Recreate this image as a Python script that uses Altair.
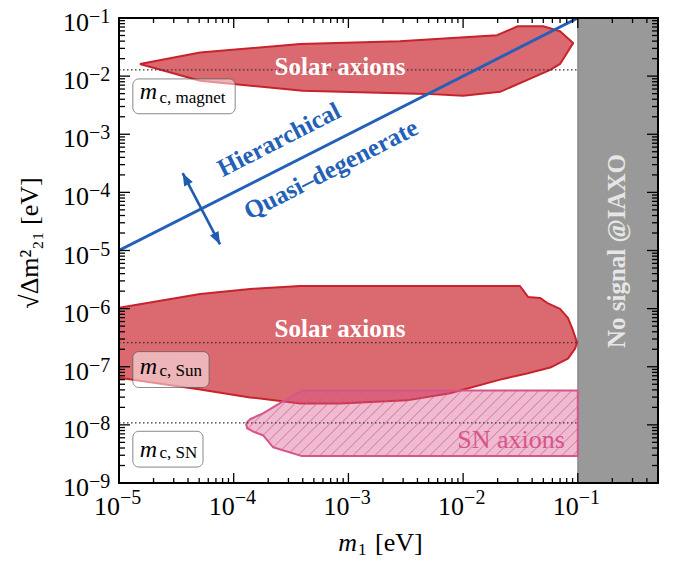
import altair as alt
import numpy as np
import pandas as pd

# ---------------- axes ----------------
X_DOMAIN = [1e-5, 0.5]
Y_DOMAIN = [1e-9, 1e-1]
W, H = 539, 465
FONT = "Liberation Serif"

RED = "#c8232c"
PINK = "#d6558a"
BLUE = "#2360b8"
GRAY = "#999999"

X_MAJOR_EXP = [-5, -4, -3, -2, -1]
Y_MAJOR_EXP = [-9, -8, -7, -6, -5, -4, -3, -2, -1]
MINOR_MULT = [2, 3, 4, 5, 6, 7, 8, 9]

# ---------------- regions ----------------
solar_hi_x = [1.52e-5, 5.1e-5, 3.8e-4, 2.8e-3, 1.98e-2, 3.0e-2, 4.98e-2, 7.0e-2, 9.1e-2,
              7.0e-2, 5.75e-2, 2.1e-2, 1.0e-2, 4.8e-3, 4.0e-4, 5.1e-5, 1.52e-5]
solar_hi_y = [1.62e-2, 2.55e-2, 3.56e-2, 4.0e-2, 5.07e-2, 7.2e-2, 7.2e-2, 5.9e-2, 3.7e-2,
              1.62e-2, 1.28e-2, 5.37e-3, 4.6e-3, 4.95e-3, 5.6e-3, 8.3e-3, 1.62e-2]

solar_lo_x = [1e-5, 5.1e-5, 1.39e-4, 3.8e-4, 3.13e-2, 3.68e-2, 4.68e-2, 5.38e-2, 7.0e-2, 8.2e-2,
              9.1e-2, 9.85e-2, 9.46e-2, 8.2e-2, 5.75e-2, 3.6e-2, 2.1e-2, 7.7e-3, 3.24e-3,
              8.45e-4, 3.8e-4, 1.39e-4, 5.1e-5, 1e-5, 1e-5]
solar_lo_y = [1.03e-6, 1.79e-6, 2.18e-6, 2.45e-6, 2.45e-6, 1.59e-6, 1.53e-6, 1.26e-6, 9.9e-7, 6.95e-7,
              4.17e-7, 2.6e-7, 2.05e-7, 1.38e-7, 9.7e-8, 7.65e-8, 6.0e-8, 3.5e-8, 2.64e-8,
              2.34e-8, 2.34e-8, 2.97e-8, 4.07e-8, 6.5e-8, 1.03e-6]

sn_x = [1.28e-4, 1.39e-4, 1.8e-4, 2.69e-4, 3.94e-4, 0.1, 0.1, 3.94e-4, 2.2e-4, 1.8e-4, 1.53e-4, 1.31e-4, 1.28e-4]
sn_y = [1.06e-8, 1.25e-8, 1.58e-8, 2.54e-8, 3.9e-8, 3.9e-8, 2.9e-9, 2.9e-9, 4.13e-9, 6.64e-9, 7.46e-9, 8.75e-9, 1.06e-8]

iaxo_x = [0.1]
iaxo_x2 = [0.5]

hier_x = [1e-5, 0.1]
hier_y = [1e-5, 0.1]

arrow_x = [3.59e-5, 7.6e-5]
arrow_y = [2.14e-4, 1.27e-5]
arrow_angle = [332.5, 152.5]

mc_values = [1.28e-2, 2.6e-7, 1.08e-8]
mc_x_range = [1e-5, 0.1]

# label boxes (data coords)
box_x = [1.32e-5, 1.32e-5, 1.32e-5]
box_x2 = [1.03e-4, 6.1e-5, 5.4e-5]
box_y = [8.95e-3, 1.82e-7, 7.76e-9]
box_y2 = [2.25e-3, 4.4e-8, 1.88e-9]
box_sub = ["c, magnet", "c, Sun", "c, SN"]
box_m_x = [1.52e-5, 1.52e-5, 1.52e-5]
box_m_y = [4.07e-3, 7.65e-8, 2.79e-9]
box_sub_x = [2.25e-5, 2.25e-5, 2.25e-5]
box_sub_y = [3.48e-3, 6.8e-8, 2.68e-9]

# ---------------- encodings ----------------
XS = alt.Scale(type="log", domain=X_DOMAIN, nice=False)
YS = alt.Scale(type="log", domain=Y_DOMAIN, nice=False)
X = alt.X("x:Q", scale=XS, axis=None)
Y = alt.Y("y:Q", scale=YS, axis=None)


def polygon(xs, ys, name, fill, opacity, stroke, sw):
    df = pd.DataFrame({"x": xs, "y": ys, "o": list(range(len(xs))), "poly": name})
    return alt.Chart(df).mark_line(
        fill=fill, fillOpacity=opacity, stroke=stroke, strokeWidth=sw,
        strokeJoin="round", clip=True
    ).encode(x=X, y=Y, order="o:Q", detail="poly:N")


layers = []

# IAXO gray band
iaxo_df = pd.DataFrame({"x": iaxo_x, "x2": iaxo_x2, "y": [Y_DOMAIN[0]], "y2": [Y_DOMAIN[1]]})
layers.append(alt.Chart(iaxo_df).mark_rect(fill=GRAY, stroke="#7d7d7d", strokeWidth=1).encode(
    x=X, x2="x2:Q", y=Y, y2="y2:Q"))

# Solar regions
layers.append(polygon(solar_hi_x, solar_hi_y, "hi", RED, 0.68, RED, 2))
layers.append(polygon(solar_lo_x, solar_lo_y, "lo", RED, 0.68, RED, 2))

# SN region (fill)
layers.append(polygon(sn_x, sn_y, "sn", PINK, 0.4, PINK, 0))

# hatch segments clipped to the SN polygon (45 degrees in screen space)
sx = W / (np.log10(X_DOMAIN[1]) - np.log10(X_DOMAIN[0]))
sy = H / (np.log10(Y_DOMAIN[1]) - np.log10(Y_DOMAIN[0]))
P = [(np.log10(a) * sx, np.log10(b) * sy) for a, b in zip(sn_x, sn_y)]
cvals = [py - px for px, py in P]
segs = []
for c in np.arange(min(cvals) + 5.5, max(cvals), 11.0):
    hits = []
    for (X1, Y1), (X2, Y2) in zip(P[:-1], P[1:]):
        f1, f2 = Y1 - X1 - c, Y2 - X2 - c
        if (f1 > 0) != (f2 > 0):
            t = f1 / (f1 - f2)
            hits.append(X1 + t * (X2 - X1))
    hits.sort()
    for a, b in zip(hits[0::2], hits[1::2]):
        segs.append((10 ** (a / sx), 10 ** ((a + c) / sy), 10 ** (b / sx), 10 ** ((b + c) / sy)))
hatch_df = pd.DataFrame(segs, columns=["x", "y", "x2", "y2"])
layers.append(alt.Chart(hatch_df).mark_rule(color=PINK, strokeWidth=0.9, opacity=0.85, clip=True).encode(
    x=X, y=Y, x2="x2:Q", y2="y2:Q"))
layers.append(polygon(sn_x, sn_y, "sn2", "transparent", 0, PINK, 2))

# dotted m_c lines
mc_df = pd.DataFrame({"y": mc_values, "x": [mc_x_range[0]] * 3, "x2": [mc_x_range[1]] * 3})
layers.append(alt.Chart(mc_df).mark_rule(color="#333333", strokeWidth=1.2, strokeDash=[1.5, 2.5]).encode(
    x=X, x2="x2:Q", y=Y))

# hierarchical / quasi-degenerate line
hier_df = pd.DataFrame({"x": hier_x, "y": hier_y})
layers.append(alt.Chart(hier_df).mark_line(color=BLUE, strokeWidth=3, clip=True).encode(x=X, y=Y))

# double arrow
arr_df = pd.DataFrame({"x": arrow_x, "y": arrow_y, "angle": arrow_angle})
layers.append(alt.Chart(arr_df).mark_line(color="#1f5bb0", strokeWidth=2.6).encode(x=X, y=Y))
layers.append(alt.Chart(arr_df).mark_point(
    shape="M0,0L0.85,2.2L-0.85,2.2Z", filled=True, size=130, color="#1f5bb0", opacity=1
).encode(x=X, y=Y, angle=alt.Angle("angle:Q", scale=None)))

# region texts
txt = pd.DataFrame({
    "x": [8.45e-4, 8.45e-4], "y": [1.44e-2, 4.5e-7], "t": ["Solar axions", "Solar axions"]})
layers.append(alt.Chart(txt).mark_text(font=FONT, fontSize=25, fontWeight="bold", color="white",
                                       baseline="middle").encode(x=X, y=Y, text="t:N"))
sn_t = pd.DataFrame({"x": [2.62e-2], "y": [5.44e-9], "t": ["SN axions"]})
layers.append(alt.Chart(sn_t).mark_text(font=FONT, fontSize=26, color=PINK, baseline="middle").encode(
    x=X, y=Y, text="t:N"))
iaxo_t = pd.DataFrame({"x": [0.22], "y": [9.8e-6], "t": ["No signal @IAXO"]})
layers.append(alt.Chart(iaxo_t).mark_text(font=FONT, fontSize=25, fontWeight="bold", color="#e6e6e6",
                                          angle=270, baseline="middle").encode(x=X, y=Y, text="t:N"))
blue_t = pd.DataFrame({"x": [2.48e-4, 7.05e-4], "y": [8.1e-4, 2.48e-4],
                       "t": ["Hierarchical", "Quasi–degenerate"]})
layers.append(alt.Chart(blue_t).mark_text(font=FONT, fontSize=25, fontWeight="bold", color=BLUE,
                                          angle=333, baseline="middle").encode(x=X, y=Y, text="t:N"))

# label boxes
bx = pd.DataFrame({"x": box_x, "x2": box_x2, "y": box_y, "y2": box_y2})
layers.append(alt.Chart(bx).mark_rect(fill="white", fillOpacity=0.5, stroke="#555555", strokeOpacity=0.7,
                                      strokeWidth=1, cornerRadius=6).encode(x=X, x2="x2:Q", y=Y, y2="y2:Q"))
bm = pd.DataFrame({"x": box_m_x, "y": box_m_y, "t": ["m"] * 3})
layers.append(alt.Chart(bm).mark_text(font=FONT, fontSize=24, fontStyle="italic", align="left",
                                      baseline="alphabetic", color="black").encode(x=X, y=Y, text="t:N"))
bs = pd.DataFrame({"x": box_sub_x, "y": box_sub_y, "t": box_sub})
layers.append(alt.Chart(bs).mark_text(font=FONT, fontSize=17, align="left",
                                      baseline="alphabetic", color="black").encode(x=X, y=Y, text="t:N"))

# ticks (inward, four sides)
x_major = [10.0 ** e for e in X_MAJOR_EXP]
x_minor = [m * 10.0 ** e for e in X_MAJOR_EXP for m in MINOR_MULT if m * 10.0 ** e < X_DOMAIN[1]]
y_major = [10.0 ** e for e in Y_MAJOR_EXP]
y_minor = [m * 10.0 ** e for e in Y_MAJOR_EXP[:-1] for m in MINOR_MULT]

for vals, ln in [(x_major, 10), (x_minor, 5)]:
    d = pd.DataFrame({"x": vals})
    layers.append(alt.Chart(d).mark_rule(color="black", strokeWidth=1.3).encode(
        x=X, y=alt.value(H), y2=alt.value(H - ln)))
    layers.append(alt.Chart(d).mark_rule(color="black", strokeWidth=1.3).encode(
        x=X, y=alt.value(0), y2=alt.value(ln)))
for vals, ln in [(y_major, 11), (y_minor, 6)]:
    d = pd.DataFrame({"y": vals})
    layers.append(alt.Chart(d).mark_rule(color="black", strokeWidth=1.3).encode(
        y=Y, x=alt.value(0), x2=alt.value(ln)))
    layers.append(alt.Chart(d).mark_rule(color="black", strokeWidth=1.3).encode(
        y=Y, x=alt.value(W), x2=alt.value(W - ln)))

# frame
layers.append(alt.Chart(pd.DataFrame({"a": [0]})).mark_rect(fill="transparent", stroke="black", strokeWidth=2).encode(
    x=alt.value(0), x2=alt.value(W), y=alt.value(0), y2=alt.value(H)))

# tick labels
xl = pd.DataFrame({"x": x_major, "b": ["10"] * len(x_major), "e": ["−%d" % abs(e) for e in X_MAJOR_EXP]})
layers.append(alt.Chart(xl).mark_text(font=FONT, fontSize=26, align="right", baseline="alphabetic", dx=1,
                                      color="black").encode(x=X, y=alt.value(H + 32), text="b:N"))
layers.append(alt.Chart(xl).mark_text(font=FONT, fontSize=20, align="left", baseline="alphabetic", dx=1,
                                      color="black").encode(x=X, y=alt.value(H + 21), text="e:N"))
yl = pd.DataFrame({"y": y_major, "b": ["10"] * len(y_major), "e": ["−%d" % abs(e) for e in Y_MAJOR_EXP]})
layers.append(alt.Chart(yl).mark_text(font=FONT, fontSize=26, align="right", baseline="alphabetic", dy=13,
                                      color="black").encode(y=Y, x=alt.value(-30), text="b:N"))
layers.append(alt.Chart(yl).mark_text(font=FONT, fontSize=20, align="left", baseline="alphabetic", dy=5,
                                      color="black").encode(y=Y, x=alt.value(-30), text="e:N"))

# axis titles
t1 = pd.DataFrame({"t": ["m"]})
layers.append(alt.Chart(t1).mark_text(font=FONT, fontSize=26, fontStyle="italic", align="right",
                                      baseline="alphabetic", color="black").encode(
    x=alt.value(238), y=alt.value(533), text="t:N"))
t2 = pd.DataFrame({"t": ["1"]})
layers.append(alt.Chart(t2).mark_text(font=FONT, fontSize=17, align="left",
                                      baseline="alphabetic", color="black").encode(
    x=alt.value(239), y=alt.value(537), text="t:N"))
t3 = pd.DataFrame({"t": ["[eV]"]})
layers.append(alt.Chart(t3).mark_text(font=FONT, fontSize=26, align="left",
                                      baseline="alphabetic", color="black").encode(
    x=alt.value(256), y=alt.value(533), text="t:N"))
t4 = pd.DataFrame({"t": ["√Δm²₂₁ [eV]"]})
layers.append(alt.Chart(t4).mark_text(font=FONT, fontSize=26, angle=270, align="center",
                                      baseline="middle", color="black").encode(
    x=alt.value(-89), y=alt.value(225), text="t:N"))

chart = alt.layer(*layers).properties(
    width=W, height=H,
    padding={"left": 111, "top": 10, "right": 10, "bottom": 77},
    autosize=alt.AutoSizeParams(type="none"),
).configure_view(strokeWidth=0)

chart.save("out.html", embed_options={"renderer": "svg", "actions": False})
